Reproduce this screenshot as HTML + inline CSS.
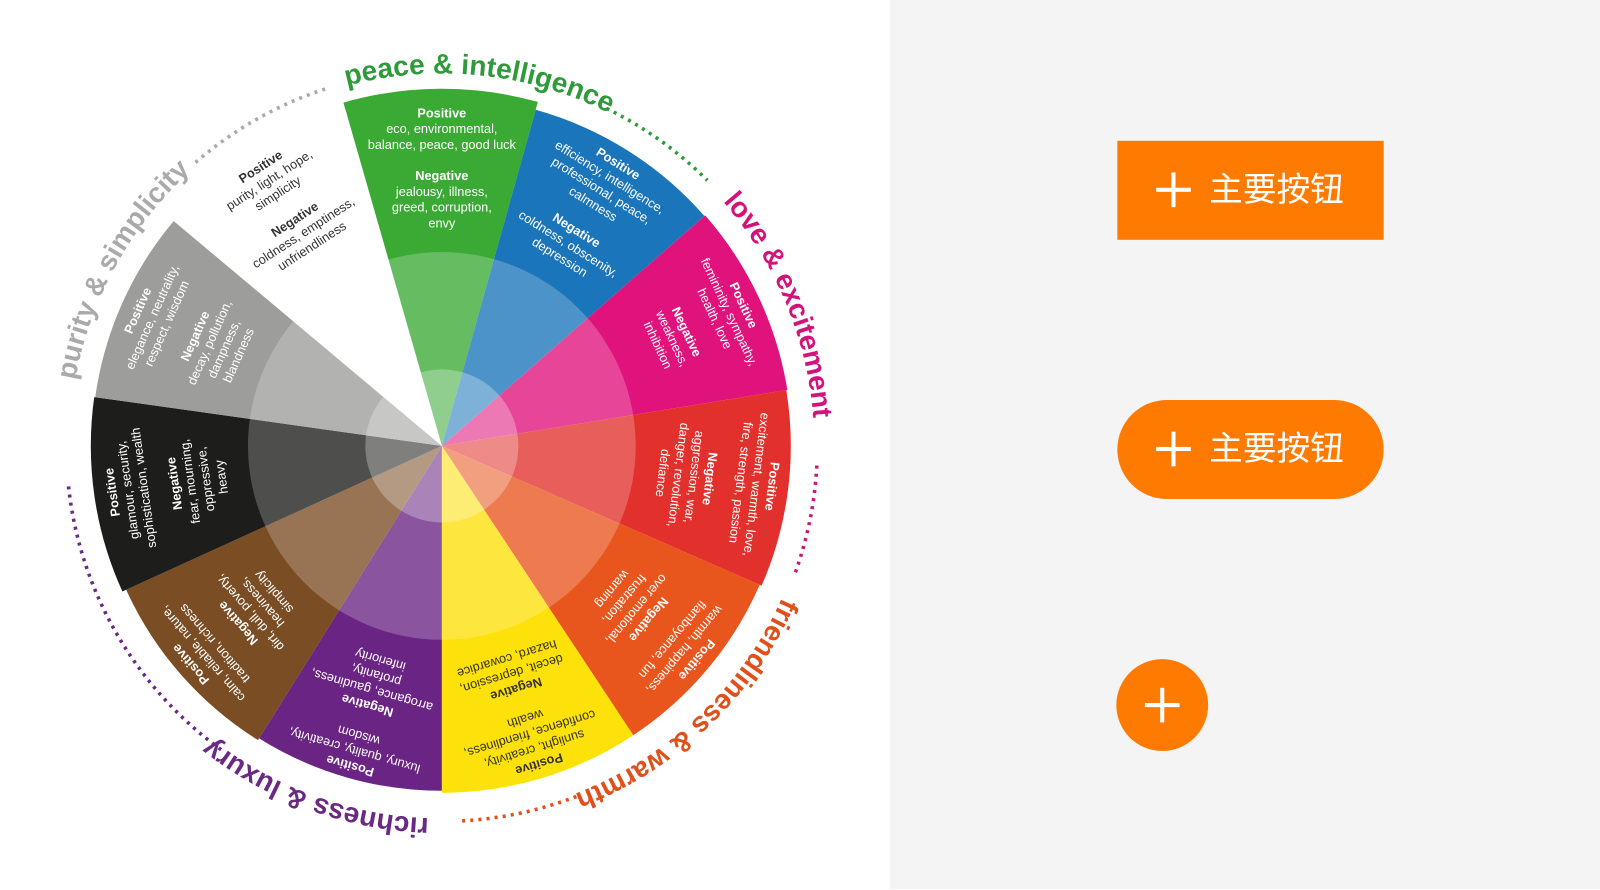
<!DOCTYPE html>
<html><head><meta charset="utf-8"><style>
body{margin:0;width:1600px;height:889px;overflow:hidden;background:#fff;font-family:"Liberation Sans","Noto Sans CJK SC",sans-serif}
#bg{position:absolute;left:890px;top:0;width:710px;height:889px;background:#f4f4f4}
#wrap{position:absolute;left:0;top:0;width:1568px;height:872px;transform:scale(1.0204);transform-origin:0 0}
.btn{position:absolute;background:#ff7a00;color:#fff;font-size:33px;font-family:"Liberation Sans","Noto Sans CJK SC",sans-serif}
.plus{position:absolute;width:34px;height:34px}
.plus:before{content:"";position:absolute;left:0;top:15px;width:34px;height:4px;background:#fff}
.plus:after{content:"";position:absolute;left:15px;top:0;width:4px;height:34px;background:#fff}
.lbl{position:absolute;left:90px;top:26px;line-height:44px;white-space:nowrap}
</style></head><body>
<div id="bg"></div>
<div id="wrap">
<div class="btn" style="left:1095px;top:138px;width:261px;height:97px"><div class="plus" style="left:38px;top:31px"></div><span class="lbl">主要按钮</span></div>
<div class="btn" style="left:1095px;top:392px;width:261px;height:97px;border-radius:49px"><div class="plus" style="left:38px;top:31px"></div><span class="lbl">主要按钮</span></div>
<div class="btn" style="left:1094px;top:646px;width:90px;height:90px;border-radius:50%"><div class="plus" style="left:28px;top:28px"></div></div>
<svg width="890" height="872" style="position:absolute;left:0;top:0" font-family="Liberation Sans, sans-serif">
<defs>
<path id="ring" d="M433,72 A365,365 0 1 1 433,802 A365,365 0 1 1 433,72 A365,365 0 1 1 433,802 A365,365 0 1 1 433,72"/>
</defs>
<g id="wedges"></g>
<circle cx="433" cy="437" r="190" fill="#fff" opacity="0.22"/>
<circle cx="433" cy="437" r="75" fill="#fff" opacity="0.28"/>
<g id="txt" font-size="12.5" text-anchor="middle"></g>
<g font-size="27.5" font-weight="bold">
<text fill="#2e9a3a"><textPath href="#ring" startOffset="2198">peace &amp; intelligence</textPath></text>
<text fill="#d4127a"><textPath href="#ring" startOffset="312">love &amp; excitement</textPath></text>
<text fill="#e0501a"><textPath href="#ring" startOffset="726">friendliness &amp; warmth</textPath></text>
<text fill="#6a2a84"><textPath href="#ring" startOffset="1159">richness &amp; luxury</textPath></text>
<text fill="#aaa"><textPath href="#ring" startOffset="1784">purity &amp; simplicity</textPath></text>
</g>
<g fill="none" stroke-width="3.5" stroke-dasharray="3 5" id="dots"></g>
</svg>
</div>
<script>
var cx=433,cy=437;
function pt(a,r){a=a*Math.PI/180;return [cx+r*Math.sin(a),cy-r*Math.cos(a)];}
var W=[[-16,15.6,350,"#3aaa35"],[15.6,48.8,342,"#1a75bb"],[48.8,80.8,343,"#e0127c"],[80.8,113.6,342,"#e2312d"],[113.6,146.5,340,"#e8561e"],[146.5,180,340,"#fde10a"],[180,212,338,"#6a2484"],[212,245.5,340,"#7b4d24"],[245.5,278,344,"#1d1d1b"],[278,310,343,"#9d9d9c"],[310,344,343,"#ffffff"]];
var h="";
W.forEach(function(w){var a=pt(w[0],w[2]),b=pt(w[1],w[2]);h+='<path d="M'+cx+','+cy+' L'+a+' A'+w[2]+','+w[2]+' 0 0 1 '+b+' Z" fill="'+w[3]+'"/>';});
document.getElementById("wedges").innerHTML=h;
var T=[[0,"#fff",["*Positive","eco, environmental,","balance, peace, good luck","*Negative","jealousy, illness,","greed, corruption,","envy"]],
[32,"#fff",["*Positive","efficiency, intelligence,","professional, peace,","calmness","*Negative","coldness, obscenity,","depression"]],
[65,"#fff",["*Positive","femininity, sympathy,","health, love","*Negative","weakness,","inhibition"]],
[97,"#fff",["*Positive","excitement, warmth, love,","fire, strength, passion","*Negative","aggression, war,","danger, revolution,","defiance"]],
[130,"#fff",["*Positive","warmth, happiness,","flamboyance, fun","*Negative","over emotional,","frustration,","warning"]],
[163,"#333",["*Positive","sunlight, creativity,","confidence, friendliness,","wealth","*Negative","deceit, depression,","hazard, cowardice"]],
[196,"#fff",["*Positive","luxury, quality, creativity,","wisdom","*Negative","arrogance, gaudiness,","profanity,","inferiority"]],
[229,"#fff",["*Positive","calm, reliable, nature,","tradition, richness","*Negative","dirt, dull, poverty,","heaviness,","simplicity"]],
[262,"#fff",["*Positive","glamour, security,","sophistication, wealth","*Negative","fear, mourning,","oppressive,","heavy"]],
[294,"#fff",["*Positive","elegance, neutrality,","respect, wisdom","*Negative","decay, pollution,","dampness,","blandness"]],
[327,"#333",["*Positive","purity, light, hope,","simplicity","*Negative","coldness, emptiness,","unfriendliness"]]];
var t="";
T.forEach(function(w){var r=322;t+='<g transform="translate('+cx+','+cy+') rotate('+w[0]+')" fill="'+w[1]+'">';
w[2].forEach(function(l,i){var b=l[0]=="*";if(b&&i>0)r-=15;t+='<text y="'+(-r)+'"'+(b?' font-weight="bold"':'')+'>'+(b?l.slice(1):l)+'</text>';r-=15.5;});t+='</g>';});
document.getElementById("txt").innerHTML=t;
var D=[[-41,-18,"#aaa"],[26,45,"#2e9a3a"],[93,110,"#d4127a"],[159,177,"#e0501a"],[216,264,"#6a2a84"]];
var d="";D.forEach(function(x){var a=pt(x[0],368),b=pt(x[1],368);d+='<path d="M'+a+' A368,368 0 0 1 '+b+'" stroke="'+x[2]+'"/>';});
document.getElementById("dots").innerHTML=d;
</script>
</body></html>
